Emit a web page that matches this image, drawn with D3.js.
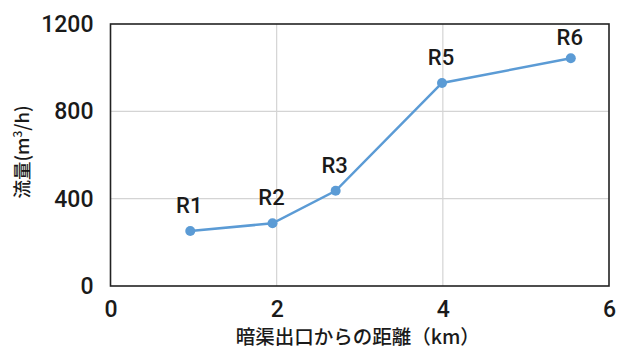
<!DOCTYPE html>
<html>
<head>
<meta charset="utf-8">
<script src="https://cdn.jsdelivr.net/npm/d3@7"></script>
<style>
  html, body { margin: 0; padding: 0; background: #fff; }
  svg { display: block; }
</style>
</head>
<body>
<script>
// Flow rate measured at each station vs. distance from the culvert outlet
const stations = ["R1", "R2", "R3", "R5", "R6"];
const distanceKm = [0.96, 1.95, 2.71, 3.99, 5.54];
const flowM3h = [252, 287, 436, 930, 1043];
const xTicks = [0, 2, 4, 6];
const yTicks = [0, 400, 800, 1200];

const W = 617, H = 349;
const margin = { left: 110.5, top: 24, right: 8, bottom: 63 };

const svg = d3.select("body").append("svg")
  .attr("width", W).attr("height", H);

const x = d3.scaleLinear().domain([0, 6]).range([margin.left, W - margin.right]);
const y = d3.scaleLinear().domain([0, 1200]).range([H - margin.bottom, margin.top]);

const numFont = "Roboto, 'Liberation Sans', sans-serif";
const jpFont = "'Noto Sans CJK JP', sans-serif";

// gridlines
svg.append("g").selectAll("line.gx")
  .data(xTicks.filter(d => d > 0 && d < 6)).join("line")
  .attr("x1", d => x(d)).attr("x2", d => x(d))
  .attr("y1", y(0)).attr("y2", y(1200))
  .attr("stroke", "#d4d4d4").attr("stroke-width", 1.2);
svg.append("g").selectAll("line.gy")
  .data(yTicks.filter(d => d > 0 && d < 1200)).join("line")
  .attr("x1", x(0)).attr("x2", x(6))
  .attr("y1", d => y(d)).attr("y2", d => y(d))
  .attr("stroke", "#d4d4d4").attr("stroke-width", 1.2);

// plot frame
svg.append("rect")
  .attr("x", x(0)).attr("y", y(1200))
  .attr("width", x(6) - x(0)).attr("height", y(0) - y(1200))
  .attr("fill", "none").attr("stroke", "#222").attr("stroke-width", 1.6);

// axes (labels only; frame drawn above)
const xAxis = svg.append("g")
  .attr("transform", `translate(0,${y(0)})`)
  .call(d3.axisBottom(x).tickValues(xTicks).tickFormat(d3.format("d"))
    .tickSize(0).tickPadding(15));
const yAxis = svg.append("g")
  .attr("transform", `translate(${x(0)},0)`)
  .call(d3.axisLeft(y).tickValues(yTicks).tickFormat(d3.format("d"))
    .tickSize(0).tickPadding(17));
[xAxis, yAxis].forEach(g => {
  g.select(".domain").remove();
  g.selectAll("text")
    .attr("font-family", numFont).attr("font-size", 23)
    .attr("font-weight", 500).attr("fill", "#1a1a1a");
});

// data line and markers
const pts = distanceKm.map((d, i) => ({ x: d, y: flowM3h[i], name: stations[i] }));
svg.append("path")
  .datum(pts)
  .attr("fill", "none").attr("stroke", "#5b9bd5").attr("stroke-width", 2.5)
  .attr("d", d3.line().x(d => x(d.x)).y(d => y(d.y)));
svg.append("g").selectAll("circle")
  .data(pts).join("circle")
  .attr("cx", d => x(d.x)).attr("cy", d => y(d.y)).attr("r", 5)
  .attr("fill", "#5b9bd5");

// station labels
svg.append("g").selectAll("text")
  .data(pts).join("text")
  .attr("x", d => x(d.x) - 1)
  .attr("y", d => y(d.y) - (d.name === "R6" ? 13 : 18))
  .attr("text-anchor", "middle")
  .attr("font-family", numFont).attr("font-size", 22).attr("font-weight", 500)
  .attr("fill", "#1a1a1a")
  .text(d => d.name);

// axis titles
svg.append("text")
  .attr("x", (x(0) + x(6)) / 2 - 2).attr("y", 344)
  .attr("text-anchor", "middle")
  .attr("font-family", jpFont).attr("font-size", 19.5).attr("font-weight", 500)
  .attr("fill", "#1a1a1a")
  .text("暗渠出口からの距離（km）");

const yt = svg.append("text")
  .attr("transform", "translate(29,152) rotate(-90)")
  .attr("text-anchor", "middle")
  .attr("font-family", jpFont).attr("font-size", 18.5).attr("font-weight", 500)
  .attr("fill", "#1a1a1a");
yt.append("tspan").text("流量(m");
yt.append("tspan").attr("font-size", 12).attr("dy", -7).text("3");
yt.append("tspan").attr("dy", 7).text("/h)");
</script>
</body>
</html>
